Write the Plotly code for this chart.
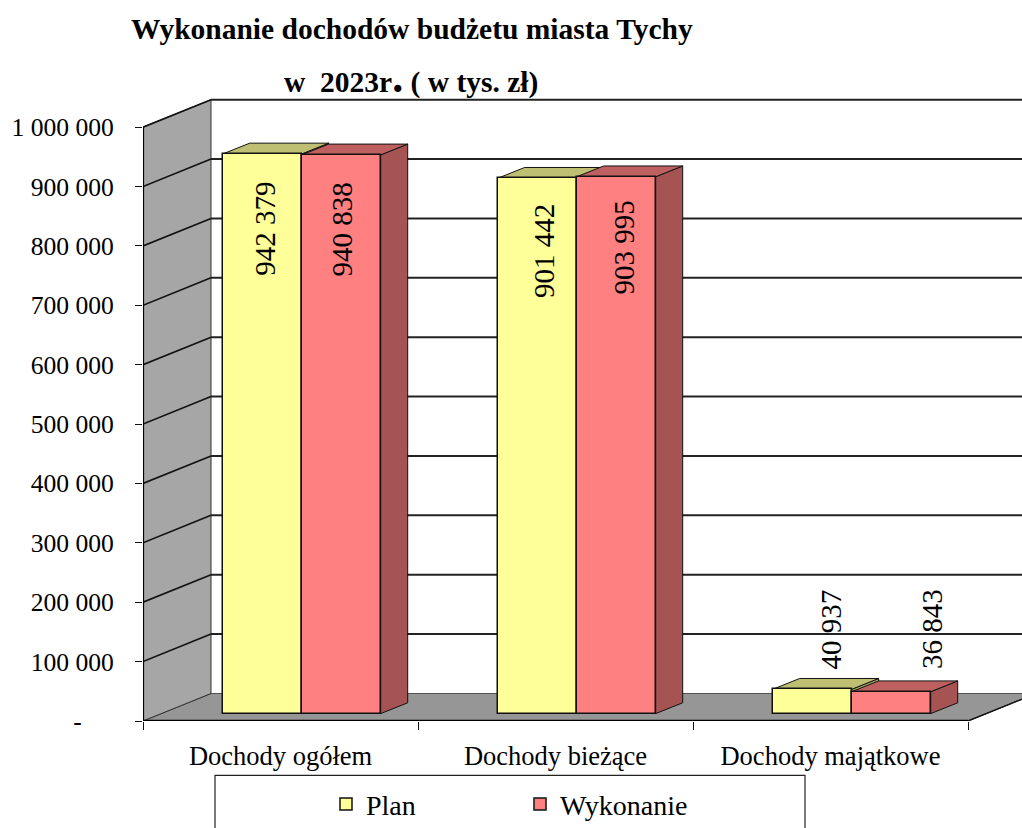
import plotly.graph_objects as go

categories = ["Dochody ogółem", "Dochody bieżące", "Dochody majątkowe"]
plan = [942379, 901442, 40937]
wykonanie = [940838, 903995, 36843]
y_ticks = [0, 100000, 200000, 300000, 400000, 500000, 600000, 700000, 800000, 900000, 1000000]
y_tick_text = ["-\u00a0\u00a0\u00a0\u00a0\u00a0", "100 000", "200 000", "300 000", "400 000", "500 000",
               "600 000", "700 000", "800 000", "900 000", "1 000 000"]

# layout constants (pixels)
W, H = 1022, 828
X0, Y0 = 143.0, 720.7      # front-left origin of the axes
CAT_PX = 275.0             # one category
UNIT_PX = 593.6            # 1 000 000 on the value axis
WALL_DX, WALL_DY = 68.0, 27.5
BAR_W = 79.0
BAR_GAP = 79.7
BAR_FRONT = 7.4            # bars stand this far up the floor
BAR_DX, BAR_DY = 27.0, 10.8


def dx(px):
    return px / CAT_PX


def dy(px):
    return px / UNIT_PX * 1e6


def px_x(px):
    return (px - X0) / CAT_PX


def px_y(py):
    return (Y0 - py) / UNIT_PX * 1e6


def path(points):
    return "M" + " L".join(f"{x},{y}" for x, y in points) + " Z"


x_max = px_x(W)
y_max = px_y(0)
n = len(categories)
base = dy(BAR_FRONT)

shapes = []


def poly(points, fill, lw=1.0, color="#111111"):
    shapes.append(dict(type="path", path=path(points), fillcolor=fill, layer="below",
                       line=dict(color=color, width=lw), xref="x", yref="y"))


def seg(x1, y1, x2, y2, lw=1.6, color="#111111"):
    shapes.append(dict(type="line", x0=x1, y0=y1, x1=x2, y1=y2, layer="below",
                       line=dict(color=color, width=lw), xref="x", yref="y"))


wx, wy = dx(WALL_DX), dy(WALL_DY)
# floor and side wall
poly([(0, 0), (wx, wy), (x_max + 1, wy), (x_max + 1, wy), (n + wx, wy), (n, 0)], "#969696", 1.0, "#333333")
poly([(0, 0), (wx, wy), (wx, 1e6 + wy), (0, 1e6)], "#A6A6A6", 1.0, "#333333")
# gridlines on the two walls
for v in y_ticks[1:]:
    seg(0, v, wx, v + wy)
    seg(wx, v + wy, x_max, v + wy, 2.0, "#222222")
seg(wx, wy, x_max, wy, 1.0, "#555555")
seg(n, 0, n + wx, wy, 1.4)


def bar_faces(i, left_px, value, top_col, side_col):
    left = i + dx(left_px)
    right = left + dx(BAR_W)
    ddx, ddy = dx(BAR_DX), dy(BAR_DY)
    top = base + value
    poly([(right, base), (right + ddx, base + ddy), (right + ddx, top + ddy), (right, top)], side_col)
    poly([(left, top), (left + ddx, top + ddy), (right + ddx, top + ddy), (right, top)], top_col)


for i in range(n):
    bar_faces(i, BAR_GAP, plan[i], "#BFBF73", "#A6A663")
    bar_faces(i, BAR_GAP + BAR_W, wykonanie[i], "#BF6060", "#A65353")

# axis lines on top of the walls
seg(0, 0, 0, 1e6, 2.2, "#000000")
seg(0, 0, n, 0, 2.6, "#000000")

# legend frame
lx0, lx1, ly0, ly1 = (215 - X0) / (W - X0), (805 - X0) / (W - X0), (Y0 - 775) / Y0, (Y0 - 840) / Y0
shapes.append(dict(type="path", xref="paper", yref="paper", layer="below",
                   path=f"M{lx0},{ly1} L{lx0},{ly0} L{lx1},{ly0} L{lx1},{ly1}",
                   line=dict(color="#222222", width=1.2)))

fig = go.Figure()
fig.add_bar(name="Plan", x=[i + dx(BAR_GAP + BAR_W / 2) for i in range(n)], y=plan, base=base,
            width=dx(BAR_W), marker=dict(color="#FFFF99", line=dict(color="#111111", width=1.5)))
fig.add_bar(name="Wykonanie", x=[i + dx(BAR_GAP + BAR_W * 1.5) for i in range(n)], y=wykonanie, base=base,
            width=dx(BAR_W), marker=dict(color="#FF8080", line=dict(color="#111111", width=1.5)))

SERIF = "Liberation Serif"
LABEL_SIZE = 29
annotations = []
# (horizontal offset from bar centre, vertical offset of label centre from bar top) in px
plan_label_off = [(2.5, -75), (7.5, -73), (19, 60)]
wyk_label_off = [(0.5, -75), (7.5, -71), (40, 63)]


def fmt(v):
    return f"{v:,}".replace(",", " ")


for series, offs, col in ((plan, plan_label_off, 0), (wykonanie, wyk_label_off, 1)):
    for i, v in enumerate(series):
        annotations.append(dict(
            x=i + dx(BAR_GAP + BAR_W * (col + 0.5) + offs[i][0]),
            y=base + v + dy(offs[i][1]),
            text=fmt(v), textangle=-90, showarrow=False, xanchor="center", yanchor="middle",
            font=dict(family=SERIF, size=LABEL_SIZE, color="#000000")))

annotations.append(dict(xref="paper", yref="paper", x=(412 - X0) / (W - X0), y=(Y0 - 29) / Y0,
                        text="<b>Wykonanie dochodów budżetu miasta Tychy</b>", showarrow=False,
                        xanchor="center", yanchor="middle",
                        font=dict(family=SERIF, size=29.5, color="#000000")))
annotations.append(dict(xref="paper", yref="paper", x=(411 - X0) / (W - X0), y=(Y0 - 77) / Y0,
                        text="<b>w  2023r<span style='font-size:44px'>.</span> ( w tys. zł)</b>",
                        showarrow=False, xanchor="center", yanchor="middle",
                        font=dict(family=SERIF, size=29.5, color="#000000")))

fig.update_layout(
    width=W, height=H, autosize=False,
    margin=dict(l=X0, r=0, t=0, b=H - Y0, pad=0, autoexpand=False),
    paper_bgcolor="white", plot_bgcolor="white",
    barmode="overlay", bargap=0,
    shapes=shapes, annotations=annotations,
    showlegend=True,
    legend=dict(orientation="h", xanchor="left", yanchor="middle",
                x=(326 - X0) / (W - X0), y=(Y0 - 804) / Y0,
                entrywidth=149, entrywidthmode="pixels", bgcolor="rgba(0,0,0,0)",
                font=dict(family=SERIF, size=28, color="#000000"),
                tracegroupgap=0),
    font=dict(family=SERIF, size=26, color="#000000"),
    xaxis=dict(range=[0, x_max], tickmode="array", tickvals=[i + 0.5 for i in range(n)], ticktext=categories,
               showgrid=False, zeroline=False, showline=False, ticks="", ticklabelstandoff=16,
               minor=dict(dtick=1, tick0=0, ticks="outside", ticklen=8, tickwidth=1.2, tickcolor="#111111", showgrid=False),
               tickfont=dict(family=SERIF, size=26.5, color="#000000"), fixedrange=True),
    yaxis=dict(range=[0, y_max], tickmode="array", tickvals=y_ticks, ticktext=y_tick_text,
               showgrid=False, zeroline=False, showline=False, ticks="outside", ticklen=7, tickwidth=1.4,
               tickcolor="#111111", ticklabelstandoff=16,
               tickfont=dict(family=SERIF, size=25.6, color="#000000"), fixedrange=True),
)

fig.write_html("out.html", config={"displayModeBar": False},
               post_script="document.body.style.margin='0';")
